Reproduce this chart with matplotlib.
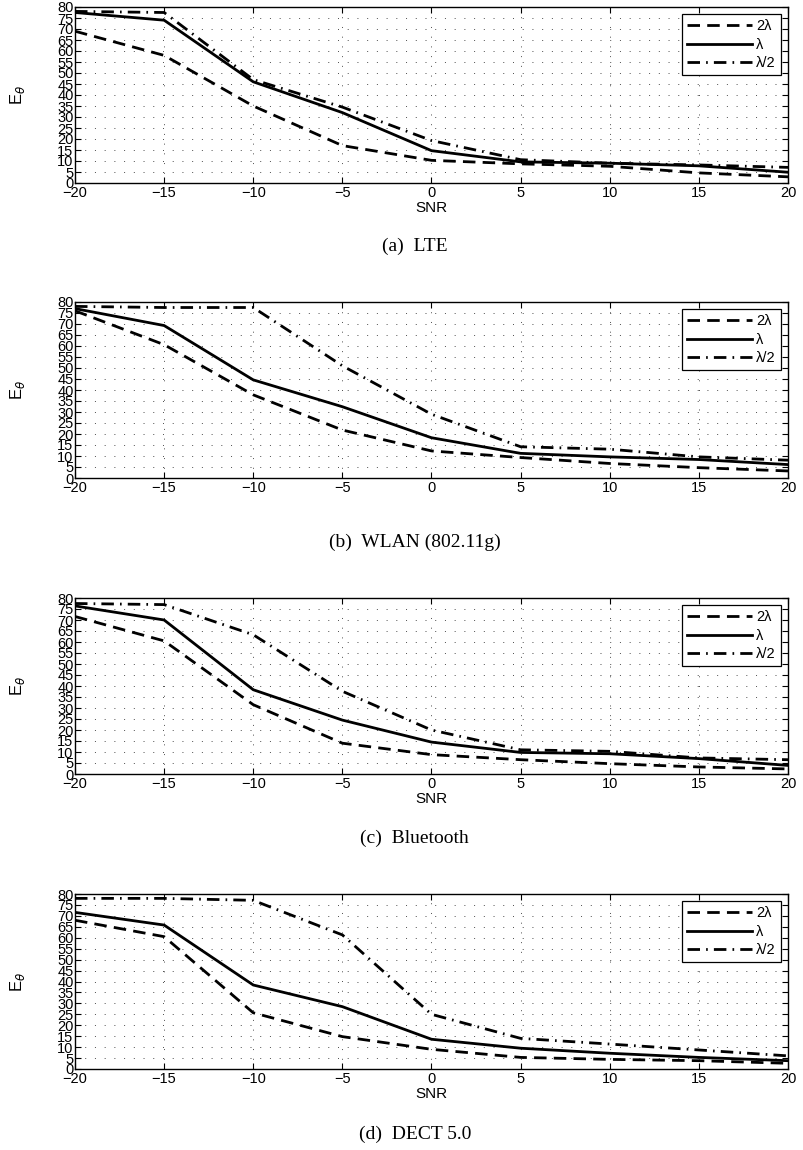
import numpy as np
import matplotlib.pyplot as plt
from matplotlib.ticker import MultipleLocator

plt.rcParams['font.family'] = ['Liberation Sans', 'DejaVu Sans']

# SNR axis
snr = [-20, -15, -10, -5, 0, 5, 10, 15, 20]

# (a) LTE
lte_2lam = [69, 58, 35, 17, 10.3, 8.7, 7.6, 4.6, 2.8]
lte_lam = [77.5, 74, 46, 32, 14.7, 9.6, 9.0, 7.8, 4.9]
lte_half = [78, 77.5, 47, 34.5, 19.3, 10.6, 9.0, 8.2, 7.1]

# (b) WLAN (802.11g)
wlan_2lam = [76, 60.6, 37.8, 21.8, 12.3, 9.3, 6.6, 4.7, 3.2]
wlan_lam = [77, 69.3, 44.6, 32.4, 18.3, 11.2, 9.6, 8.4, 6.1]
wlan_half = [78, 77.5, 77.5, 51, 29, 14.2, 13.1, 9.6, 8.1]

# (c) Bluetooth
bt_2lam = [71.6, 60.5, 31.5, 14, 8.8, 6.5, 4.7, 3.2, 2.3]
bt_lam = [76.4, 70, 38.3, 24.5, 14.5, 9.8, 9.2, 7.0, 3.9]
bt_half = [77.5, 77, 63.3, 37.6, 20, 11, 10.3, 7.3, 6.5]

# (d) DECT 5.0
dect_2lam = [68, 60.5, 25.7, 14.8, 9.0, 5.3, 4.4, 3.8, 2.6]
dect_lam = [71.6, 65.8, 38.4, 28.5, 13.6, 9.5, 7.2, 5.3, 3.8]
dect_half = [78, 78, 77.1, 61.3, 25, 14, 11.4, 8.7, 6]

panels = [
    ("(a)  LTE", lte_2lam, lte_lam, lte_half, True),
    ("(b)  WLAN (802.11g)", wlan_2lam, wlan_lam, wlan_half, False),
    ("(c)  Bluetooth", bt_2lam, bt_lam, bt_half, True),
    ("(d)  DECT 5.0", dect_2lam, dect_lam, dect_half, True),
]
labels = ["2\u03bb", "\u03bb", "\u03bb/2"]

fig = plt.figure(figsize=(8.04, 11.5), dpi=100)

# pixel layout: axes top/bottom rows and caption rows
tops = [7, 302, 598, 894]
bottoms = [183, 478, 774, 1069]
caps = [246, 542, 838, 1134]
W, H = 804.0, 1150.0
left, right = 75, 788

for (cap, d2, d1, dh, show_x), t, b, c in zip(panels, tops, bottoms, caps):
    ax = fig.add_axes([left / W, 1 - b / H, (right - left) / W, (b - t) / H])
    ax.plot(snr, d2, color='k', ls=(0, (4.5, 2.6)), lw=2, label=labels[0])
    ax.plot(snr, d1, color='k', ls='-', lw=2, label=labels[1])
    ax.plot(snr, dh, color='k', ls=(0, (4.5, 2.2, 0.6, 2.2)), lw=2, label=labels[2])
    ax.set_xlim(-20, 20)
    ax.set_ylim(0, 80)
    ax.yaxis.set_major_locator(MultipleLocator(5))
    ax.set_xticks(snr)
    ax.set_xticklabels([str(v).replace('-', '\u2212') for v in snr])
    ax.tick_params(direction='in', top=True, right=True, length=4, width=0.8,
                   pad=2)
    ax.tick_params(axis='x', labelsize=10.5)
    ax.tick_params(axis='y', labelsize=10.5, pad=1)
    ax.grid(True, color='0.3', ls=(0, (1, 9)), lw=0.7)
    for s in ax.spines.values():
        s.set_linewidth(1.0)
    if show_x:
        ax.set_xlabel("SNR", fontsize=11, labelpad=1)
    ax.set_ylabel(r"E$_\theta$", fontsize=12)
    ax.yaxis.set_label_coords(-0.067, 0.5)
    leg = ax.legend(loc='upper right', fontsize=10.5, fancybox=False,
                    edgecolor='k', framealpha=1, handlelength=4.4,
                    borderpad=0.35, labelspacing=0.3, handletextpad=0.3,
                    borderaxespad=0.5)
    leg.get_frame().set_linewidth(0.9)
    fig.text(0.516, 1 - c / H, cap, ha='center', va='center',
             family='Liberation Serif', fontsize=14)

fig.savefig("out.png", dpi=100)
